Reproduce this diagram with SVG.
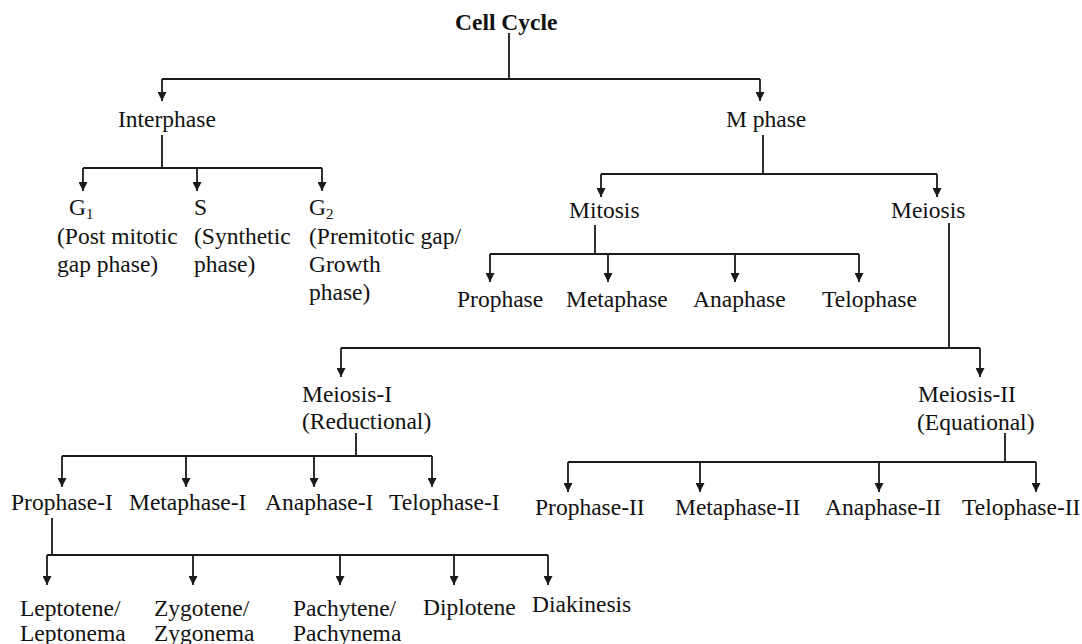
<svg xmlns="http://www.w3.org/2000/svg" width="1082" height="644" viewBox="0 0 1082 644">
<style>
.t{font-family:"Liberation Serif","Times New Roman",serif;font-size:23.5px;fill:#111}
.b{font-weight:bold}
.c{fill:none;stroke:#1a1a1a;stroke-width:1.8}
.a{fill:none;stroke:#1a1a1a;stroke-width:1.8;marker-end:url(#arr)}
</style>
<defs>
<marker id="arr" markerUnits="userSpaceOnUse" markerWidth="10" markerHeight="9" refX="9" refY="4.5" orient="auto">
<path d="M0,0 L9,4.5 L0,9 z" fill="#1a1a1a"/>
</marker>
</defs>
<rect width="1082" height="644" fill="#fff"/>
<g id="connectors">
<path class="c" d="M509,33 V79 M162,79 H760"/>
<path class="a" d="M162,79 V101"/><path class="a" d="M760,79 V101"/>
<path class="c" d="M162,135 V168 M83,168 H322"/>
<path class="a" d="M83,168 V191"/><path class="a" d="M197,168 V191"/><path class="a" d="M322,168 V191"/>
<path class="c" d="M763,135 V174 M601,174 H937"/>
<path class="a" d="M601,174 V197"/><path class="a" d="M937,174 V197"/>
<path class="c" d="M595,225 V254 M490,254 H859"/>
<path class="a" d="M490,254 V282"/><path class="a" d="M608,254 V282"/><path class="a" d="M735,254 V282"/><path class="a" d="M859,254 V282"/>
<path class="c" d="M949,223 V348 M341,348 H980"/>
<path class="a" d="M341,348 V377"/><path class="a" d="M980,348 V377"/>
<path class="c" d="M356,433 V456 M62,456 H432"/>
<path class="a" d="M62,456 V487"/><path class="a" d="M186,456 V487"/><path class="a" d="M314,456 V487"/><path class="a" d="M432,456 V487"/>
<path class="c" d="M1005,433 V462 M568,462 H1036"/>
<path class="a" d="M568,462 V492"/><path class="a" d="M700,462 V492"/><path class="a" d="M879,462 V492"/><path class="a" d="M1036,462 V492"/>
<path class="c" d="M52,518 V555 M47,555 H548"/>
<path class="a" d="M47,555 V585"/><path class="a" d="M193,555 V585"/><path class="a" d="M340,555 V585"/><path class="a" d="M454,555 V585"/><path class="a" d="M548,555 V585"/>
</g>
<g id="cell-cycle"><text class="t b" x="455" y="30">Cell Cycle</text></g>
<g id="interphase"><text class="t" x="118" y="127">Interphase</text></g>
<g id="m-phase"><text class="t" x="726" y="127">M phase</text></g>
<g id="g1"><text class="t" x="69" y="215">G<tspan font-size="15" dy="4">1</tspan></text>
<text class="t" x="57" y="244">(Post mitotic</text><text class="t" x="57" y="272">gap phase)</text></g>
<g id="s"><text class="t" x="194" y="215">S</text>
<text class="t" x="194" y="244">(Synthetic</text><text class="t" x="194" y="272">phase)</text></g>
<g id="g2"><text class="t" x="309" y="215">G<tspan font-size="15" dy="4">2</tspan></text>
<text class="t" x="309" y="244">(Premitotic gap/</text><text class="t" x="309" y="272">Growth</text><text class="t" x="309" y="300">phase)</text></g>
<g id="mitosis"><text class="t" x="569" y="218">Mitosis</text></g>
<g id="meiosis"><text class="t" x="891" y="218">Meiosis</text></g>
<g id="prophase"><text class="t" x="457" y="307">Prophase</text></g>
<g id="metaphase"><text class="t" x="566" y="307">Metaphase</text></g>
<g id="anaphase"><text class="t" x="693" y="307">Anaphase</text></g>
<g id="telophase"><text class="t" x="822" y="307">Telophase</text></g>
<g id="meiosis-1"><text class="t" x="302" y="402">Meiosis-I</text><text class="t" x="302" y="429">(Reductional)</text></g>
<g id="meiosis-2"><text class="t" x="918" y="402">Meiosis-II</text><text class="t" x="917" y="430">(Equational)</text></g>
<g id="prophase-1"><text class="t" x="11" y="510">Prophase-I</text></g>
<g id="metaphase-1"><text class="t" x="129" y="510">Metaphase-I</text></g>
<g id="anaphase-1"><text class="t" x="265" y="510">Anaphase-I</text></g>
<g id="telophase-1"><text class="t" x="389" y="510">Telophase-I</text></g>
<g id="prophase-2"><text class="t" x="535" y="515">Prophase-II</text></g>
<g id="metaphase-2"><text class="t" x="675" y="515">Metaphase-II</text></g>
<g id="anaphase-2"><text class="t" x="825" y="515">Anaphase-II</text></g>
<g id="telophase-2"><text class="t" x="962" y="515">Telophase-II</text></g>
<g id="leptotene"><text class="t" x="20" y="616">Leptotene/</text><text class="t" x="20" y="641">Leptonema</text></g>
<g id="zygotene"><text class="t" x="154" y="616">Zygotene/</text><text class="t" x="154" y="641">Zygonema</text></g>
<g id="pachytene"><text class="t" x="293" y="616">Pachytene/</text><text class="t" x="293" y="641">Pachynema</text></g>
<g id="diplotene"><text class="t" x="423" y="615">Diplotene</text></g>
<g id="diakinesis"><text class="t" x="532" y="612">Diakinesis</text></g>
</svg>
